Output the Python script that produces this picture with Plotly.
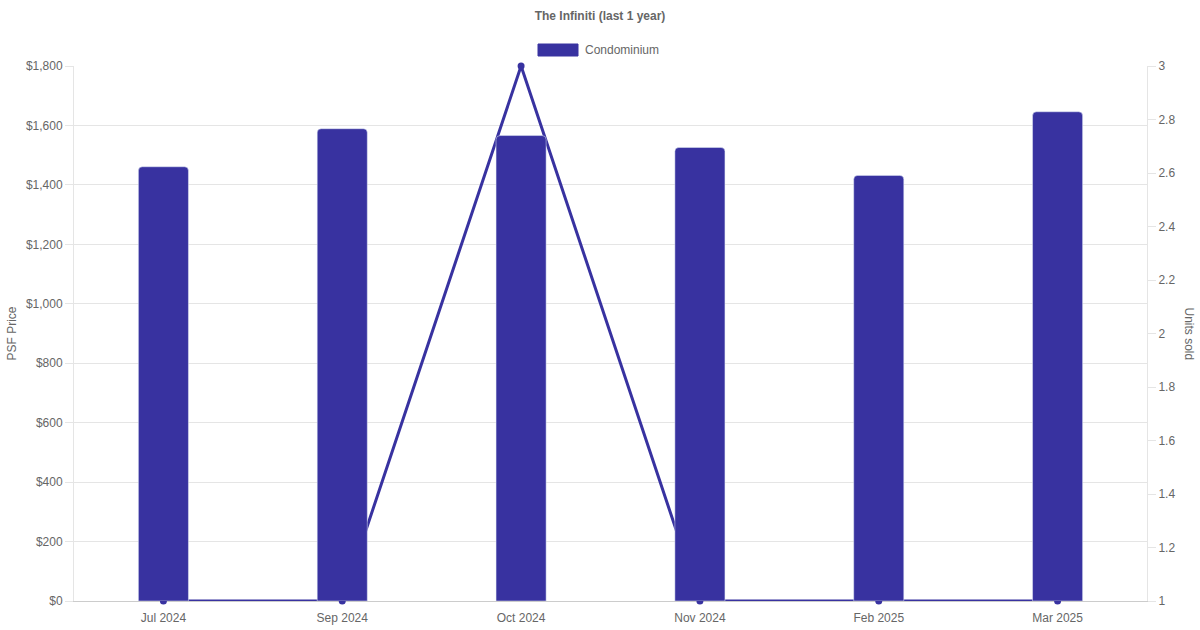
import plotly.graph_objects as go

categories = ["Jul 2024", "Sep 2024", "Oct 2024", "Nov 2024", "Feb 2025", "Mar 2025"]
psf_price = [1461, 1589, 1566, 1526, 1432, 1646]
units_sold = [1, 1, 3, 1, 1, 1]

color = "#3832a0"
font = "Liberation Sans, Arial, sans-serif"
txt = "#666"
grid = "#e5e5e5"

fig = go.Figure()
fig.add_trace(go.Scatter(
    x=categories, y=units_sold, mode="lines+markers", yaxis="y",
    line=dict(color=color, width=3), marker=dict(color=color, size=7),
    showlegend=False, name="Units sold", cliponaxis=False,
))
fig.add_trace(go.Bar(
    x=categories, y=psf_price, yaxis="y2", name="Condominium",
    marker=dict(color=color, cornerradius=4), width=0.28, showlegend=False,
))

# legend drawn as a box + label
fig.add_shape(type="rect", xref="paper", yref="paper",
              x0=(538 - 74) / 1073, x1=(578 - 74) / 1073,
              y0=(601 - 56) / 535, y1=(601 - 44) / 535,
              fillcolor=color, line=dict(color=color, width=1))
fig.add_annotation(text="Condominium", xref="paper", yref="paper",
                   x=(583 - 74) / 1073, y=(601 - 50) / 535, xanchor="left",
                   yanchor="middle", showarrow=False,
                   font=dict(size=12, color=txt, family=font))
# axis titles
fig.add_annotation(text="PSF Price", xref="paper", yref="paper", x=(11 - 74) / 1073,
                   y=0.5, textangle=-90, showarrow=False, xanchor="center",
                   yanchor="middle", font=dict(size=12, color=txt, family=font))
fig.add_annotation(text="Units sold", xref="paper", yref="paper", x=(1189 - 74) / 1073,
                   y=0.5, textangle=90, showarrow=False, xanchor="center",
                   yanchor="middle", font=dict(size=12, color=txt, family=font))

fig.update_layout(
    width=1200, height=630,
    margin=dict(l=74, r=53, t=66, b=29, autoexpand=False),
    paper_bgcolor="white", plot_bgcolor="white",
    font=dict(family=font, size=12, color=txt),
    title=dict(text="<b>The Infiniti (last 1 year)</b>", x=0.5, xanchor="center",
               y=1 - 16 / 630, yanchor="middle", font=dict(size=12, color=txt)),
    showlegend=False,
    xaxis=dict(type="category", showgrid=False, showline=True, linecolor="#ccc",
               ticks="", tickfont=dict(size=12, color=txt), range=[-0.5, 5.5],
               automargin=False, ticklabelstandoff=6, layer="below traces"),
    yaxis=dict(side="right", range=[1, 3], dtick=0.2, showgrid=False,
               showline=True, linecolor=grid, ticks="outside", ticklen=8,
               tickcolor=grid, zeroline=False, automargin=False,
               tickfont=dict(size=12, color=txt), layer="below traces"),
    yaxis2=dict(side="left", overlaying="y", range=[0, 1800], dtick=200,
                tickprefix="$", tickformat=",", showgrid=True, gridcolor=grid,
                showline=True, linecolor=grid, ticks="outside", ticklen=8,
                tickcolor=grid, zeroline=False, automargin=False,
                tickfont=dict(size=12, color=txt), layer="below traces"),
    bargap=0.72,
)

fig.write_html("out.html", config={"displayModeBar": False},
               post_script="document.body.style.margin='0';document.body.style.overflow='hidden';")
